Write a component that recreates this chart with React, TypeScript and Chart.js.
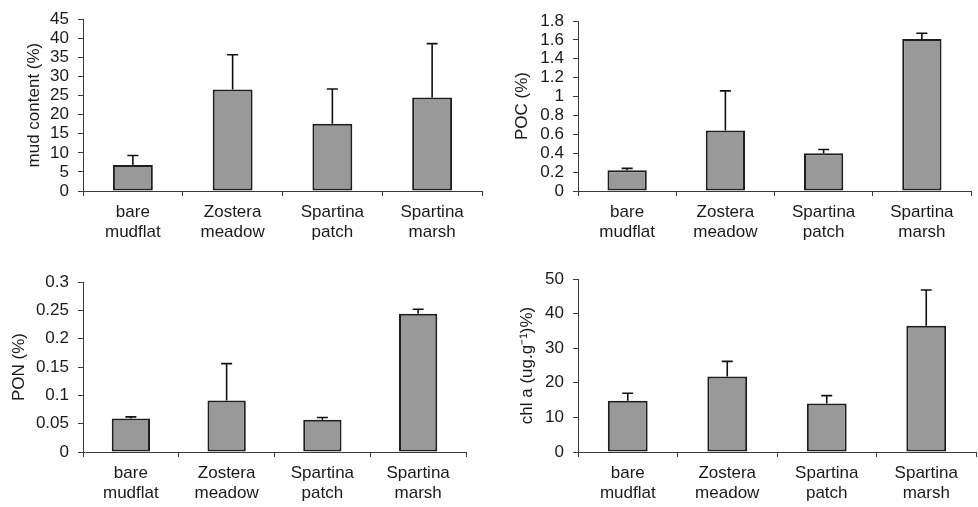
import React, { useEffect, useRef } from "react";
import { Chart, registerables } from "chart.js";

Chart.register(...registerables);

const categories = [
  ["bare", "mudflat"],
  ["Zostera", "meadow"],
  ["Spartina", "patch"],
  ["Spartina", "marsh"],
];

const mudValues = [6.8, 26.6, 17.6, 24.5];
const mudErrors = [2.5, 9.1, 9.1, 14.1];
const pocValues = [0.22, 0.64, 0.4, 1.61];
const pocErrors = [0.02, 0.42, 0.04, 0.06];
const ponValues = [0.059, 0.091, 0.057, 0.244];
const ponErrors = [0.003, 0.065, 0.004, 0.008];
const chlValues = [14.8, 21.8, 14.0, 36.5];
const chlErrors = [2.2, 4.4, 2.3, 10.3];

const mudTicks = { max: 45, step: 5 };
const pocTicks = { max: 1.8, step: 0.2 };
const ponTicks = { max: 0.3, step: 0.05 };
const chlTicks = { max: 50, step: 10 };

const FONT = "'Liberation Sans', Arial, Helvetica, sans-serif";
const FS = 17;
const TEXT = "#1a1a1a";
const AXIS = "#3a3a3a";

type Panel = {
  title: string;
  values: number[];
  errors: number[];
  ticks: { max: number; step: number };
  left: number;
  top: number;
  w: number;
  h: number;
  areaLeft: number;
  areaRight: number;
  areaTop: number;
  areaBottom: number;
  titlePad: number;
};

const panels: Panel[] = [
  { title: "mud content (%)", values: mudValues, errors: mudErrors, ticks: mudTicks,
    left: 0, top: 0, w: 489, h: 250, areaLeft: 83, areaRight: 482, areaTop: 19, areaBottom: 191, titlePad: 24 },
  { title: "POC (%)", values: pocValues, errors: pocErrors, ticks: pocTicks,
    left: 489, top: 0, w: 489, h: 250, areaLeft: 89, areaRight: 482, areaTop: 21, areaBottom: 191, titlePad: 23 },
  { title: "PON (%)", values: ponValues, errors: ponErrors, ticks: ponTicks,
    left: 0, top: 250, w: 489, h: 257, areaLeft: 83, areaRight: 466, areaTop: 32, areaBottom: 202, titlePad: 9 },
  { title: "chl a (ug.g\u207B\u00B9)%)", values: chlValues, errors: chlErrors, ticks: chlTicks,
    left: 489, top: 250, w: 489, h: 257, areaLeft: 89, areaRight: 487, areaTop: 29, areaBottom: 202, titlePad: 28 },
];

function errorBarPlugin(errors: number[]) {
  return {
    id: "errbars",
    afterDatasetsDraw(chart: any) {
      const ctx = chart.ctx;
      const meta = chart.getDatasetMeta(0);
      const yScale = chart.scales.y;
      const data = chart.data.datasets[0].data as number[];
      ctx.save();
      ctx.strokeStyle = "#111";
      ctx.lineWidth = 1.6;
      meta.data.forEach((el: any, i: number) => {
        const x = el.x;
        const yBar = el.y;
        const yTop = yScale.getPixelForValue(data[i] + errors[i]);
        ctx.beginPath();
        ctx.moveTo(x, yBar);
        ctx.lineTo(x, yTop);
        ctx.moveTo(x - 5.5, yTop);
        ctx.lineTo(x + 5.5, yTop);
        ctx.stroke();
      });
      ctx.restore();
    },
  };
}

function PanelChart({ p }: { p: Panel }) {
  const ref = useRef<HTMLCanvasElement | null>(null);
  useEffect(() => {
    if (!ref.current) return;
    const chart = new Chart(ref.current, {
      type: "bar",
      data: {
        labels: categories,
        datasets: [
          {
            data: p.values,
            backgroundColor: "#999999",
            borderColor: "#1e1e1e",
            borderWidth: 2,
            borderSkipped: false,
            barPercentage: 0.4,
            categoryPercentage: 1,
          },
        ],
      },
      options: {
        responsive: false,
        maintainAspectRatio: false,
        animation: false,
        events: [],
        layout: {
          padding: { left: 0, bottom: 0, top: p.areaTop, right: p.w - p.areaRight },
        },
        plugins: { legend: { display: false }, tooltip: { enabled: false }, title: { display: false } },
        scales: {
          x: {
            type: "category",
            offset: true,
            afterFit: (s: any) => { s.height = p.h - p.areaBottom; },
            grid: { display: true, drawOnChartArea: false, drawTicks: true, tickLength: 5, color: AXIS, offset: true, lineWidth: 1 },
            border: { display: true, color: AXIS, width: 1 },
            ticks: {
              color: TEXT,
              font: { family: FONT, size: FS, lineHeight: 1.15 },
              padding: 7,
              maxRotation: 0,
              minRotation: 0,
              autoSkip: false,
            },
          },
          y: {
            type: "linear",
            min: 0,
            max: p.ticks.max,
            afterFit: (s: any) => { s.width = p.areaLeft; },
            grid: { display: true, drawOnChartArea: false, drawTicks: true, tickLength: 5, color: AXIS, lineWidth: 1 },
            border: { display: true, color: AXIS, width: 1 },
            ticks: {
              stepSize: p.ticks.step,
              autoSkip: false,
              color: TEXT,
              padding: 9,
              font: { family: FONT, size: FS },
              callback: (v: any) => String(Number(Number(v).toFixed(4))),
            },
            title: {
              display: true,
              text: p.title,
              color: TEXT,
              font: { family: FONT, size: FS, lineHeight: 1.2 },
              padding: { top: p.titlePad, bottom: 0 },
            },
          },
        },
      },
      plugins: [errorBarPlugin(p.errors)],
    } as any);
    return () => chart.destroy();
  }, [p]);
  return (
    <canvas
      ref={ref}
      width={p.w}
      height={p.h}
      style={{ position: "absolute", left: p.left, top: p.top, width: p.w, height: p.h }}
    />
  );
}

export default function App() {
  return (
    <div style={{ position: "fixed", left: 0, top: 0, width: 978, height: 507, background: "#fff" }}>
      {panels.map((p, i) => (
        <PanelChart key={i} p={p} />
      ))}
    </div>
  );
}
